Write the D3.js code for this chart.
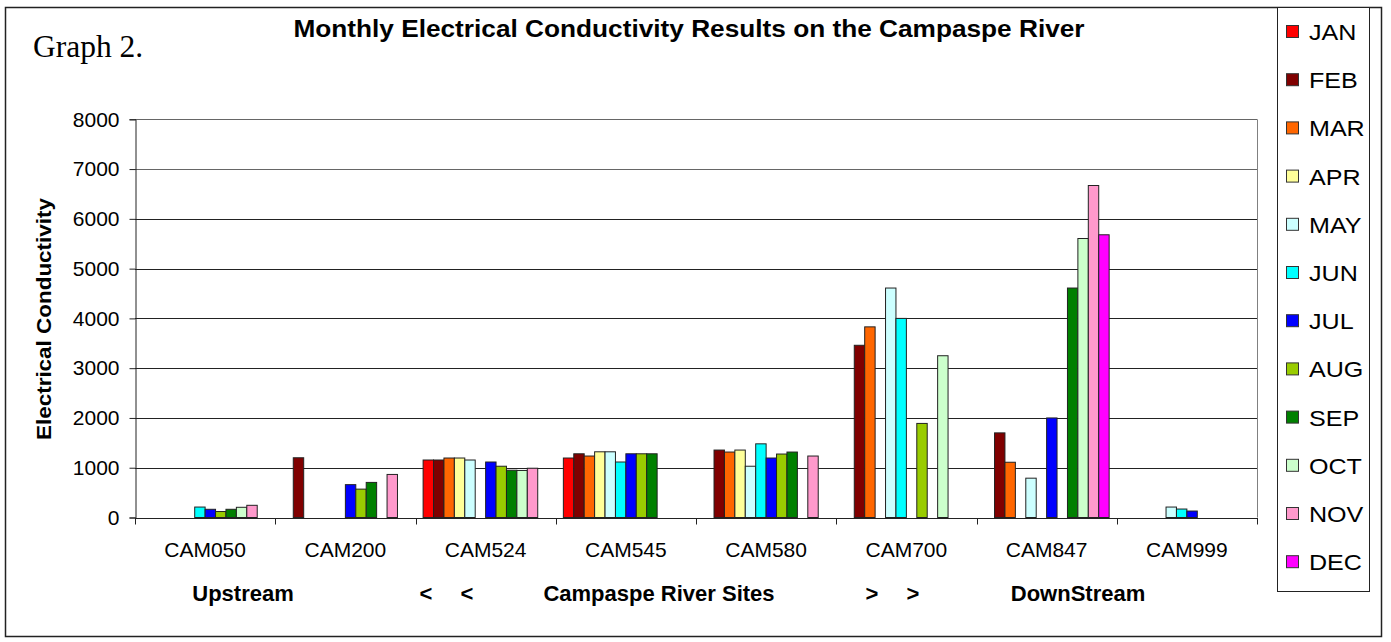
<!DOCTYPE html>
<html>
<head>
<meta charset="utf-8">
<script src="https://cdn.jsdelivr.net/npm/d3@7"></script>
<style>
  html, body { margin: 0; padding: 0; background: #fff; }
  svg { display: block; }
  text { font-family: "Liberation Sans", Arial, Helvetica, sans-serif; fill: #000; }
</style>
</head>
<body>
<svg id="chart" width="1391" height="642"></svg>
<script>
// Sampling sites along the river, upstream to downstream
const sites = ["CAM050", "CAM200", "CAM524", "CAM545", "CAM580", "CAM700", "CAM847", "CAM999"];
const months = ["JAN", "FEB", "MAR", "APR", "MAY", "JUN", "JUL", "AUG", "SEP", "OCT", "NOV", "DEC"];
const monthColors = ["#FF0000", "#800000", "#FF6600", "#FFFF99", "#CCFFFF", "#00FFFF",
                     "#0000FF", "#99CC00", "#008000", "#CCFFCC", "#FF99CC", "#FF00FF"];

// Electrical conductivity per month, one value per site (null = not sampled)
const jan = [null, null, 1155, 1195, null, null, null, null];
const feb = [null, 1200, 1155, 1280, 1355, 3460, 1700, null];
const mar = [null, null, 1195, 1235, 1315, 3830, 1110, null];
const apr = [null, null, 1195, 1320, 1355, null, null, null];
const may = [null, null, 1155, 1320, 1030, 4610, 790, 210];
const jun = [210, null, null, 1115, 1480, 4000, null, 170];
const jul = [165, 660, 1115, 1280, 1195, null, 2000, 130];
const aug = [120, 570, 1030, 1280, 1275, 1890, null, null];
const sep = [165, 705, 950, 1280, 1315, null, 4610, null];
const oct = [205, null, 945, null, null, 3250, 5605, null];
const nov = [245, 865, 990, null, 1235, null, 6670, null];
const dec = [null, null, null, null, null, null, 5680, null];

const yTicks = [0, 1000, 2000, 3000, 4000, 5000, 6000, 7000, 8000];

const chartTitle = "Monthly Electrical Conductivity Results on the Campaspe River";
const graphLabel = "Graph 2.";
const yTitle = "Electrical Conductivity";
const bottomLabels = [
  { text: "Upstream", x: 243 },
  { text: "<", x: 426 },
  { text: "<", x: 467 },
  { text: "Campaspe River Sites", x: 659 },
  { text: ">", x: 872 },
  { text: ">", x: 913 },
  { text: "DownStream", x: 1078 }
];

const monthSeries = [jan, feb, mar, apr, may, jun, jul, aug, sep, oct, nov, dec];

// flatten into bar records
const bars = [];
months.forEach((m, mi) => {
  monthSeries[mi].forEach((v, si) => {
    if (v != null) bars.push({ site: sites[si], month: m, value: v, color: monthColors[mi] });
  });
});

const svg = d3.select("#chart");

// widen text horizontally by a factor
function stretch(sel, k) {
  sel.each(function () {
    const w = this.getComputedTextLength();
    d3.select(this).attr("textLength", w * k).attr("lengthAdjust", "spacingAndGlyphs");
  });
}

// outer frame
svg.append("rect")
  .attr("x", 5.5).attr("y", 7.5).attr("width", 1376).attr("height", 629)
  .attr("fill", "#fff").attr("stroke", "#222").attr("stroke-width", 1.5);

const plot = { left: 135, right: 1257, top: 119.3, bottom: 517.5 };

const x0 = d3.scaleBand().domain(sites).range([plot.left, plot.right]).padding(0);
const x1 = d3.scaleBand().domain(months).range([0, x0.bandwidth()]).paddingInner(0).paddingOuter(0.73);
const y = d3.scaleLinear().domain([0, 8000]).range([plot.bottom, plot.top]);

// plot area border (right side)
svg.append("line")
  .attr("x1", plot.right + 0.5).attr("x2", plot.right + 0.5)
  .attr("y1", plot.top).attr("y2", plot.bottom)
  .attr("stroke", "#808080").attr("stroke-width", 1);

// horizontal gridlines
svg.append("g")
  .selectAll("line")
  .data(yTicks.filter(d => d > 0))
  .join("line")
  .attr("x1", plot.left).attr("x2", plot.right)
  .attr("y1", d => Math.round(y(d)) + 0.5).attr("y2", d => Math.round(y(d)) + 0.5)
  .attr("stroke", d => d >= 7000 ? "#666" : "#222").attr("stroke-width", 1);

// bars
svg.append("g")
  .selectAll("rect")
  .data(bars)
  .join("rect")
  .attr("x", d => x0(d.site) + x1(d.month))
  .attr("y", d => y(d.value))
  .attr("width", x1.bandwidth())
  .attr("height", d => y(0) - y(d.value))
  .attr("fill", d => d.color)
  .attr("stroke", "#222")
  .attr("stroke-width", 1);

// y axis
const yAxis = d3.axisLeft(y).tickValues(yTicks).tickSize(6).tickPadding(10).tickFormat(d3.format("d"));
const gy = svg.append("g").attr("transform", `translate(${plot.left + 0.5},0)`).call(yAxis);
gy.select(".domain").attr("stroke", "#222");
gy.selectAll(".tick line").attr("stroke", "#222");
gy.selectAll(".tick text")
  .attr("font-size", 21)
  .attr("font-family", '"Liberation Sans", Arial, sans-serif')
  .attr("fill", "#000");

// x axis with ticks at category boundaries
const gx = svg.append("g").attr("transform", `translate(0,${Math.round(plot.bottom) + 0.5})`);
gx.append("line")
  .attr("x1", plot.left).attr("x2", plot.right + 1)
  .attr("stroke", "#222");
gx.selectAll("line.tick")
  .data(sites.concat(["end"]))
  .join("line")
  .attr("class", "tick")
  .attr("x1", (d, i) => Math.round(plot.left + i * x0.step()) + 0.5)
  .attr("x2", (d, i) => Math.round(plot.left + i * x0.step()) + 0.5)
  .attr("y1", 0).attr("y2", 6)
  .attr("stroke", "#222");
gx.selectAll("text")
  .data(sites)
  .join("text")
  .attr("x", d => x0(d) + x0.bandwidth() / 2)
  .attr("y", 556.5 - (Math.round(plot.bottom) + 0.5))
  .attr("text-anchor", "middle")
  .attr("font-size", 21)
  .text(d => d);

// bottom orientation labels
svg.append("g")
  .selectAll("text")
  .data(bottomLabels)
  .join("text")
  .attr("x", d => d.x)
  .attr("y", 601)
  .attr("text-anchor", "middle")
  .attr("font-size", 22)
  .attr("font-weight", "bold")
  .text(d => d.text);

// y axis title
svg.append("text")
  .attr("transform", "translate(51,319) rotate(-90)")
  .attr("text-anchor", "middle")
  .attr("font-size", 20)
  .attr("font-weight", "bold")
  .attr("textLength", 242)
  .attr("lengthAdjust", "spacingAndGlyphs")
  .text(yTitle);

// chart title
svg.append("text")
  .attr("x", 689).attr("y", 37)
  .attr("text-anchor", "middle")
  .attr("font-size", 23)
  .attr("font-weight", "bold")
  .text(chartTitle)
  .call(stretch, 1.14);

// graph number
svg.append("text")
  .attr("x", 33).attr("y", 57)
  .style("font-family", '"Liberation Serif", "Times New Roman", serif')
  .attr("font-size", 31.5)
  .text(graphLabel);

// legend
const legend = svg.append("g");
legend.append("rect")
  .attr("x", 1277.5).attr("y", 7.5).attr("width", 92).attr("height", 584)
  .attr("fill", "#fff").attr("stroke", "#222").attr("stroke-width", 1);

const legendStep = 48.2;
const items = legend.selectAll("g.item")
  .data(months)
  .join("g")
  .attr("class", "item")
  .attr("transform", (d, i) => `translate(0,${32 + i * legendStep})`);
items.append("rect")
  .attr("x", 1286.5).attr("y", -6.5).attr("width", 12).attr("height", 12)
  .attr("fill", (d, i) => monthColors[i])
  .attr("stroke", "#333").attr("stroke-width", 1);
items.append("text")
  .attr("x", 1309).attr("y", 8)
  .attr("font-size", 22)
  .text(d => d)
  .call(stretch, 1.14);
</script>
</body>
</html>
